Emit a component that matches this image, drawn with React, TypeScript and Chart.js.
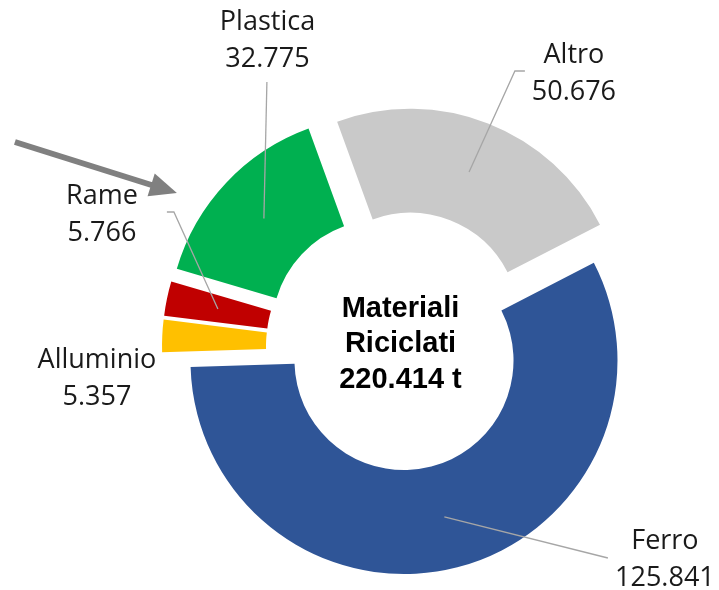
import React, { useEffect, useRef } from 'react';
import { Chart, registerables } from 'chart.js';

Chart.register(...registerables);

// ---- data ----
const categories = ['Altro', 'Ferro', 'Alluminio', 'Rame', 'Plastica'];
const tonnes = [50676, 125841, 5357, 5766, 32775];
const colors = ['#C9C9C9', '#2F5597', '#FFC000', '#C00000', '#00B050'];
const centerTitle = ['Materiali', 'Riciclati'];
const totalTonnes = 220414;

// ---- layout / style ----
const EXPLODE = [26.5, 14, 25, 25, 26];
const LABEL_POS = [
  { dx: 173.4, dy: -284 },
  { dx: 264.4, dy: 202 },
  { dx: -303.6, dy: 21 },
  { dx: -298.6, dy: -143 },
  { dx: -133, dy: -317 },
];
const LEADERS: (number[][] | null)[] = [
  [[114.4, -276], [124.4, -276]],
  [[207.4, 211]],
  null,
  [[-226.6, -135], [-233.6, -135]],
  [[-133.6, -265]],
];
const ARROW = { tail: [-385.6, -205], tip: [-223.6, -154] };
const LABEL_FONT = '27px "Open Sans"';
const CENTER_FONT = 'bold 29px "Liberation Sans"';

const fmt = (n: number) => String(n).replace(/\B(?=(\d{3})+(?!\d))/g, '.');

const explodePlugin = {
  id: 'explode',
  afterDatasetUpdate(chart: any, args: any) {
    const ca = chart.chartArea;
    const cx = (ca.left + ca.right) / 2;
    const cy = (ca.top + ca.bottom) / 2;
    args.meta.data.forEach((arc: any, i: number) => {
      const mid = (arc.startAngle + arc.endAngle) / 2;
      arc.x = cx + Math.cos(mid) * EXPLODE[i];
      arc.y = cy + Math.sin(mid) * EXPLODE[i];
    });
  },
};

const labelPlugin = {
  id: 'labels',
  afterDraw(chart: any) {
    const ctx = chart.ctx;
    const ca = chart.chartArea;
    const cx = (ca.left + ca.right) / 2;
    const cy = (ca.top + ca.bottom) / 2;
    const arcs = chart.getDatasetMeta(0).data;
    ctx.save();
    // leader lines
    ctx.strokeStyle = '#A6A6A6';
    ctx.lineWidth = 1.3;
    arcs.forEach((arc: any, i: number) => {
      const pts = LEADERS[i];
      if (!pts) return;
      const p = arc.tooltipPosition();
      ctx.beginPath();
      ctx.moveTo(p.x, p.y);
      pts.forEach((q) => ctx.lineTo(cx + q[0], cy + q[1]));
      ctx.stroke();
    });
    // labels
    ctx.fillStyle = '#1A1A1A';
    ctx.font = LABEL_FONT;
    ctx.textAlign = 'center';
    ctx.textBaseline = 'alphabetic';
    categories.forEach((name, i) => {
      const lp = LABEL_POS[i];
      ctx.fillText(name, cx + lp.dx, cy + lp.dy);
      ctx.fillText(fmt(tonnes[i]), cx + lp.dx, cy + lp.dy + 37);
    });
    // center text
    ctx.fillStyle = '#000000';
    ctx.font = CENTER_FONT;
    ctx.fillText(centerTitle[0], cx, cy - 30);
    ctx.fillText(centerTitle[1], cx, cy + 5);
    ctx.fillText(fmt(totalTonnes) + ' t', cx, cy + 41);
    // arrow
    const tx = cx + ARROW.tail[0], ty = cy + ARROW.tail[1];
    const hx = cx + ARROW.tip[0], hy = cy + ARROW.tip[1];
    const ang = Math.atan2(hy - ty, hx - tx);
    const headLen = 27, headHalf = 12;
    const bx = hx - Math.cos(ang) * headLen, by = hy - Math.sin(ang) * headLen;
    ctx.strokeStyle = '#808080';
    ctx.fillStyle = '#808080';
    ctx.lineWidth = 6;
    ctx.beginPath();
    ctx.moveTo(tx, ty);
    ctx.lineTo(bx + Math.cos(ang) * 2, by + Math.sin(ang) * 2);
    ctx.stroke();
    ctx.beginPath();
    ctx.moveTo(hx, hy);
    ctx.lineTo(bx + Math.sin(ang) * headHalf, by - Math.cos(ang) * headHalf);
    ctx.lineTo(bx - Math.sin(ang) * headHalf, by + Math.cos(ang) * headHalf);
    ctx.closePath();
    ctx.fill();
    ctx.restore();
  },
};

export default function App() {
  const ref = useRef<HTMLCanvasElement | null>(null);
  useEffect(() => {
    if (!ref.current) return;
    const chart = new Chart(ref.current, {
      type: 'doughnut',
      data: {
        labels: categories,
        datasets: [
          {
            data: tonnes,
            backgroundColor: colors,
            borderWidth: 0,
          },
        ],
      },
      options: {
        responsive: false,
        animation: false,
        events: [],
        rotation: -20,
        radius: 213.5,
        cutout: '51.3%',
        layout: { padding: { left: 82, right: 0, top: 104, bottom: 0 } },
        plugins: { legend: { display: false }, tooltip: { enabled: false } },
      },
      plugins: [explodePlugin, labelPlugin],
    } as any);
    return () => chart.destroy();
  }, []);
  return (
    <div style={{ position: 'absolute', left: 0, top: 0, width: 719, height: 590, background: '#fff' }}>
      <canvas ref={ref} width={719} height={590} style={{ display: 'block' }} />
    </div>
  );
}
